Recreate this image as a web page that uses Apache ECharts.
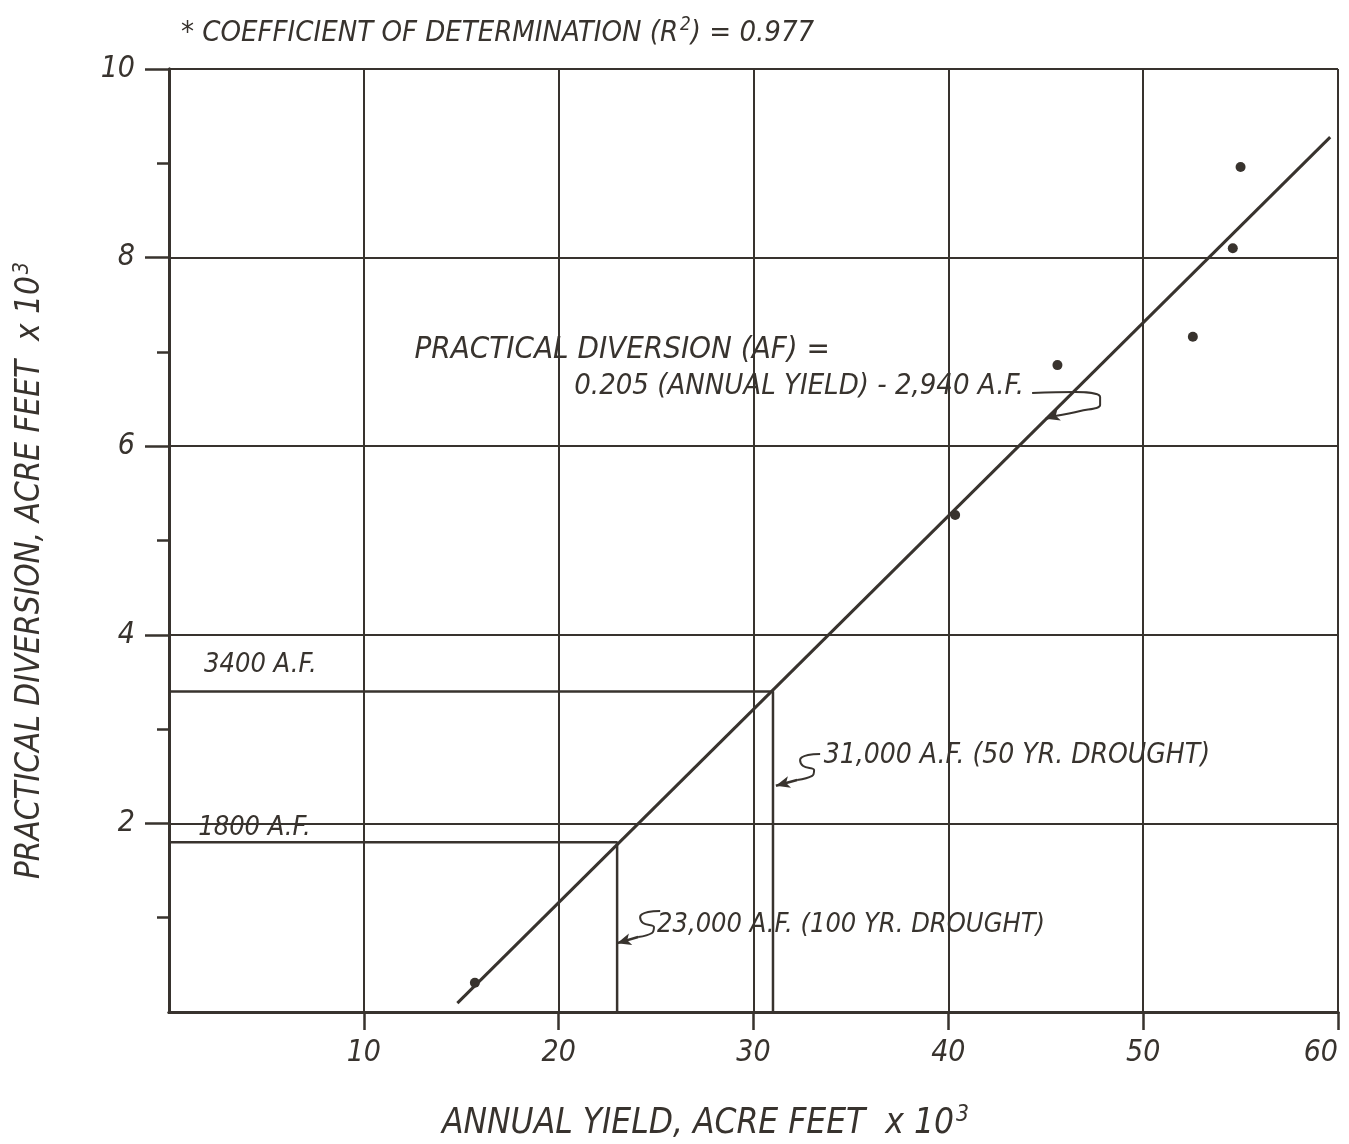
<!DOCTYPE html>
<html>
<head>
<meta charset="utf-8">
<title>Practical Diversion vs Annual Yield</title>
<script src="https://cdn.jsdelivr.net/npm/echarts@6/dist/echarts.min.js"></script>
<style>
  html, body { margin: 0; padding: 0; background: #ffffff; }
  #chart { width: 1349px; height: 1144px; }
</style>
</head>
<body>
<div id="chart"></div>
<script>
// Observed annual yield (acre-feet x 10^3) and practical diversion (acre-feet x 10^3)
const obsYield     = [15.7, 40.35, 45.6, 52.55, 54.6, 55.0];
const obsDiversion = [0.31, 5.27, 6.86, 7.16, 8.10, 8.96];

// Fitted relation: diversion = 0.205 * yield - 2,940 AF (in thousands)
const fitSlope = 0.205;
const fitIntercept = -2.94;
const fitYieldRange = [14.8, 59.6];

// Drought design cases
const droughtYield     = [23, 31];        // 100 yr, 50 yr
const droughtDiversion = [1.8, 3.4];
const droughtText      = ['23,000 A.F. (100 YR. DROUGHT)', '31,000 A.F. (50 YR. DROUGHT)'];
const diversionText    = ['1800 A.F.', '3400 A.F.'];

// Axis ticks
const xTicks = [10, 20, 30, 40, 50, 60];
const yTicks = [2, 4, 6, 8, 10];
const yMinorTicks = [1, 3, 5, 7, 9];

// Leader paths for the notes (data units)
const leaderEquation = [[44.30, 6.564], [46.51, 6.575], [47.79, 6.522], [47.79, 6.437], [46.77, 6.373], [45.48, 6.320]];
const leaderEquationTip = [45.0, 6.29];
const leader50 = [[33.42, 2.736], [32.80, 2.725], [32.39, 2.672], [32.55, 2.609], [33.11, 2.566], [33.01, 2.503], [32.24, 2.460]];
const leader50Tip = [31.15, 2.40];
const leader100 = [[25.21, 1.071], [24.59, 1.060], [24.18, 1.007], [24.33, 0.944], [24.89, 0.901], [24.79, 0.838], [24.08, 0.795]];
const leader100Tip = [23.0, 0.73];

const INK = '#38332e';
const FONT = "'Liberation Sans Narrow','DejaVu Sans Condensed','Liberation Sans','DejaVu Sans',sans-serif";

const fitLine = fitYieldRange.map(x => [x, fitSlope * x + fitIntercept]);
const observed = obsYield.map((x, i) => [x, obsDiversion[i]]);

function noteItem(pos, text, size) {
  return {
    value: pos,
    label: {
      show: true, position: 'right', distance: 0,
      formatter: text, color: INK, fontFamily: FONT, fontStyle: 'italic',
      fontSize: size
    }
  };
}

function leaderSeries(path, tip) {
  const from = path[path.length - 1];
  return {
    type: 'line', data: path, smooth: 0.4, symbol: 'none', silent: true,
    lineStyle: { color: INK, width: 2 },
    markLine: {
      silent: true, symbol: ['none', 'arrow'], symbolSize: [9, 14],
      label: { show: false },
      lineStyle: { color: INK, width: 2.5, type: 'solid' },
      data: [[{ coord: from }, { coord: tip }]]
    }
  };
}

const chart = echarts.init(document.getElementById('chart'), null, { renderer: 'canvas' });

const supRich = (size) => ({ sup: { fontSize: size * 0.65, verticalAlign: 'top', padding: [0, 0, 16, 2], color: INK, fontFamily: FONT, fontStyle: 'italic' } });

chart.setOption({
  animation: false,
  backgroundColor: '#ffffff',
  title: {
    left: 176, top: 11,
    text: '* COEFFICIENT OF DETERMINATION (R{sup|2}) = 0.977',
    textStyle: { color: INK, fontFamily: FONT, fontStyle: 'italic', fontWeight: 'normal', fontSize: 29, rich: supRich(29) }
  },
  grid: { left: 169, right: 11, top: 69, bottom: 132, outerBoundsMode: 'none', containLabel: false },
  xAxis: [
    {
      type: 'value', min: 0, max: 60, interval: 10,
      name: 'ANNUAL YIELD, ACRE FEET  x 10{sup|3}',
      nameLocation: 'middle', nameGap: 92,
      nameTextStyle: { color: INK, fontFamily: FONT, fontStyle: 'italic', fontSize: 35, padding: [0, 96, 0, 0], rich: supRich(35) },
      axisLine: { lineStyle: { color: INK, width: 3 } },
      axisTick: { customValues: xTicks, length: 18, lineStyle: { color: INK, width: 2.5 } },
      axisLabel: { customValues: xTicks, alignMaxLabel: 'right', margin: 26, color: INK, fontFamily: FONT, fontStyle: 'italic', fontSize: 30 },
      splitLine: { show: true, lineStyle: { color: INK, width: 2 } }
    },
    {
      type: 'value', min: 0, max: 60, position: 'top',
      axisLine: { show: true, lineStyle: { color: INK, width: 3 } },
      axisTick: { show: false }, axisLabel: { show: false }, splitLine: { show: false }
    }
  ],
  yAxis: [
    {
      type: 'value', min: 0, max: 10, interval: 2,
      name: 'PRACTICAL DIVERSION, ACRE FEET  x 10{sup|3}',
      nameLocation: 'middle', nameGap: 120, nameRotate: 90,
      nameTextStyle: { color: INK, fontFamily: FONT, fontStyle: 'italic', fontSize: 33, padding: [0, 60, 0, 0], rich: supRich(33) },
      axisLine: { show: true, lineStyle: { color: INK, width: 3 } },
      axisTick: { show: true, customValues: yTicks, length: 24, lineStyle: { color: INK, width: 2.5 } },
      axisLabel: { customValues: yTicks, margin: 34, color: INK, fontFamily: FONT, fontStyle: 'italic', fontSize: 30 },
      splitLine: { show: true, lineStyle: { color: INK, width: 2 } }
    },
    {
      type: 'value', min: 0, max: 10, position: 'right',
      axisLine: { show: true, lineStyle: { color: INK, width: 3 } },
      axisTick: { show: false }, axisLabel: { show: false }, splitLine: { show: false }
    },
    {
      type: 'value', min: 0, max: 10, interval: 1, position: 'left',
      axisLine: { show: false },
      axisTick: { show: true, customValues: yMinorTicks, length: 12, lineStyle: { color: INK, width: 2.5 } },
      axisLabel: { show: false }, splitLine: { show: false }
    }
  ],
  series: [
    {
      name: 'fit', type: 'line', data: fitLine, symbol: 'none', silent: true,
      lineStyle: { color: INK, width: 3 }
    },
    {
      name: 'observed', type: 'scatter', data: observed, symbol: 'circle', symbolSize: 10,
      itemStyle: { color: INK, opacity: 1 }
    },
    // drought case construction lines
    ...droughtYield.map((x, i) => ({
      type: 'line', symbol: 'none', silent: true,
      data: [[0, droughtDiversion[i]], [x, droughtDiversion[i]], [x, 0]],
      lineStyle: { color: INK, width: 2.5 }
    })),
    leaderSeries(leaderEquation, leaderEquationTip),
    leaderSeries(leader50, leader50Tip),
    leaderSeries(leader100, leader100Tip),
    {
      name: 'notes', type: 'scatter', symbolSize: 0, silent: true,
      itemStyle: { opacity: 1 },
      data: [
        noteItem([12.6, 7.02], 'PRACTICAL DIVERSION (AF) =', 31),
        noteItem([20.8, 6.63], '0.205 (ANNUAL YIELD) - 2,940 A.F.', 29),
        noteItem([33.6, 2.72], droughtText[1], 28),
        noteItem([25.05, 0.92], droughtText[0], 27),
        noteItem([1.8, 3.68], diversionText[1], 27),
        noteItem([1.5, 1.95], diversionText[0], 27)
      ]
    }
  ]
});
</script>
</body>
</html>
